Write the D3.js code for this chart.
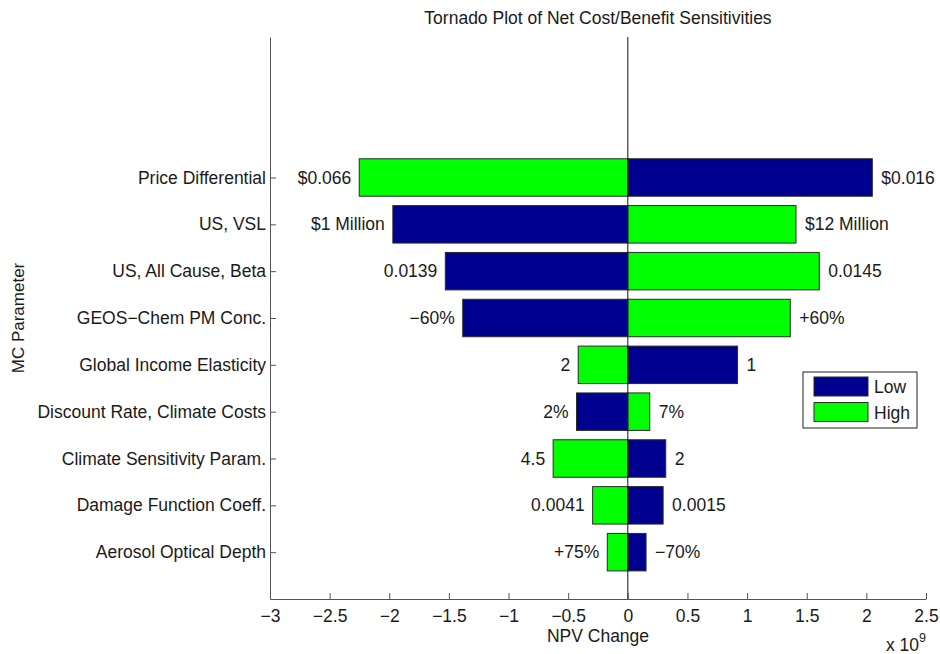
<!DOCTYPE html>
<html>
<head>
<meta charset="utf-8">
<script src="https://cdn.jsdelivr.net/npm/d3@7"></script>
<style>
  body { margin: 0; background: #fff; }
  svg { display: block; font-family: "Liberation Sans", Arial, Helvetica, sans-serif; }
</style>
</head>
<body>
<div id="chart"></div>
<script>
// Monte Carlo parameters, top to bottom
const parameters = [
  "Price Differential",
  "US, VSL",
  "US, All Cause, Beta",
  "GEOS\u2212Chem PM Conc.",
  "Global Income Elasticity",
  "Discount Rate, Climate Costs",
  "Climate Sensitivity Param.",
  "Damage Function Coeff.",
  "Aerosol Optical Depth"
];

// NPV change (x 10^9) when each parameter is set to its low / high value
const lowValues  = [2.05, -1.97, -1.53, -1.384, 0.92, -0.43, 0.318, 0.296, 0.153];
const highValues = [-2.252, 1.41, 1.605, 1.362, -0.416, 0.184, -0.626, -0.295, -0.172];

// Parameter settings printed beside each bar
const lowLabels  = ["$0.016", "$1 Million", "0.0139", "\u221260%", "1", "2%", "2", "0.0015", "\u221270%"];
const highLabels = ["$0.066", "$12 Million", "0.0145", "+60%", "2", "7%", "4.5", "0.0041", "+75%"];

const xTicks = [-3, -2.5, -2, -1.5, -1, -0.5, 0, 0.5, 1, 1.5, 2, 2.5];
const seriesNames = ["Low", "High"];

const W = 940, H = 654;
const margin = { left: 270, right: 14, top: 37, bottom: 55 };
const plotW = W - margin.left - margin.right;
const plotH = H - margin.top - margin.bottom;

const colors = { Low: "#00008f", High: "#00ff00" };
const textColor = "#1a1a1a";
const axisColor = "#555";
const fontSize = 17.5;

const svg = d3.select("#chart").append("svg")
  .attr("width", W).attr("height", H);

const g = svg.append("g")
  .attr("transform", `translate(${margin.left},${margin.top})`);

const x = d3.scaleLinear().domain([-3, 2.5]).range([0, plotW]);
// category k (1 = bottom) placed on a 0..12 axis, leaving room at the top
const y = d3.scaleLinear().domain([0, 12]).range([plotH, 0]);
const pos = i => parameters.length - i;
const barH = y(0) - y(0.8);

// bars: one row per parameter, low and high result
const rows = parameters.map((p, i) => ({
  name: p, k: pos(i),
  bars: [
    { series: "Low", v: lowValues[i], label: lowLabels[i] },
    { series: "High", v: highValues[i], label: highLabels[i] }
  ]
}));

const rowG = g.selectAll("g.row").data(rows).join("g").attr("class", "row");

rowG.selectAll("rect").data(d => d.bars.map(b => ({ ...b, k: d.k }))).join("rect")
  .attr("x", d => x(Math.min(0, d.v)))
  .attr("width", d => Math.abs(x(d.v) - x(0)))
  .attr("y", d => y(d.k) - barH / 2)
  .attr("height", barH)
  .attr("fill", d => colors[d.series])
  .attr("stroke", "#2a2a2a")
  .attr("stroke-width", 1);

rowG.selectAll("text.val").data(d => d.bars.map(b => ({ ...b, k: d.k }))).join("text")
  .attr("class", "val")
  .attr("x", d => d.v < 0 ? x(d.v) - 8 : x(d.v) + 9)
  .attr("y", d => y(d.k))
  .attr("dy", "0.35em")
  .attr("text-anchor", d => d.v < 0 ? "end" : "start")
  .attr("font-size", fontSize)
  .attr("fill", textColor)
  .text(d => d.label);

// zero line
g.append("line")
  .attr("x1", x(0)).attr("x2", x(0))
  .attr("y1", 0).attr("y2", plotH)
  .attr("stroke", "#111").attr("stroke-width", 1);

// x axis with inward ticks
const xAxis = d3.axisBottom(x)
  .tickValues(xTicks)
  .tickSizeInner(-6).tickSizeOuter(0)
  .tickFormat(d => d3.format("")(d).replace("-", "\u2212"));
const xg = g.append("g").attr("transform", `translate(0,${plotH})`).call(xAxis);
xg.select(".domain").attr("stroke", axisColor);
xg.selectAll(".tick line").attr("stroke", axisColor);
xg.selectAll(".tick text")
  .attr("y", 11).attr("dy", "0.71em")
  .attr("font-size", fontSize).attr("fill", textColor)
  .attr("font-family", null);

// y axis with inward ticks
const yAxis = d3.axisLeft(y)
  .tickValues(rows.map(r => r.k))
  .tickSizeInner(-6).tickSizeOuter(0)
  .tickFormat(k => parameters[parameters.length - k]);
const yg = g.append("g").call(yAxis);
yg.select(".domain").attr("stroke", axisColor);
yg.selectAll(".tick line").attr("stroke", axisColor);
yg.selectAll(".tick text")
  .attr("x", -4)
  .attr("font-size", fontSize).attr("fill", textColor)
  .attr("font-family", null);

// title and axis titles
svg.append("text")
  .attr("x", margin.left + plotW / 2).attr("y", 24)
  .attr("text-anchor", "middle").attr("font-size", fontSize).attr("fill", textColor)
  .text("Tornado Plot of Net Cost/Benefit Sensitivities");

svg.append("text")
  .attr("x", margin.left + plotW / 2).attr("y", 642)
  .attr("text-anchor", "middle").attr("font-size", fontSize).attr("fill", textColor)
  .text("NPV Change");

svg.append("text")
  .attr("transform", `translate(24,${margin.top + plotH / 2}) rotate(-90)`)
  .attr("text-anchor", "middle").attr("font-size", 17).attr("fill", textColor)
  .text("MC Parameter");

const expo = svg.append("text")
  .attr("x", 886).attr("y", 651)
  .attr("font-size", fontSize).attr("fill", textColor);
expo.append("tspan").text("x 10");
expo.append("tspan").attr("dy", -9).attr("font-size", fontSize - 5).text("9");

// legend
const lg = svg.append("g").attr("transform", "translate(803,372)");
lg.append("rect")
  .attr("width", 114).attr("height", 56)
  .attr("fill", "#fff").attr("stroke", "#222").attr("stroke-width", 1);
seriesNames.forEach((s, i) => {
  lg.append("rect")
    .attr("x", 11).attr("y", 5 + i * 25.5)
    .attr("width", 54).attr("height", 19)
    .attr("fill", colors[s]).attr("stroke", "#2a2a2a");
  lg.append("text")
    .attr("x", 71).attr("y", 15 + i * 25.5).attr("dy", "0.35em")
    .attr("font-size", fontSize).attr("fill", textColor)
    .text(s);
});
</script>
</body>
</html>
